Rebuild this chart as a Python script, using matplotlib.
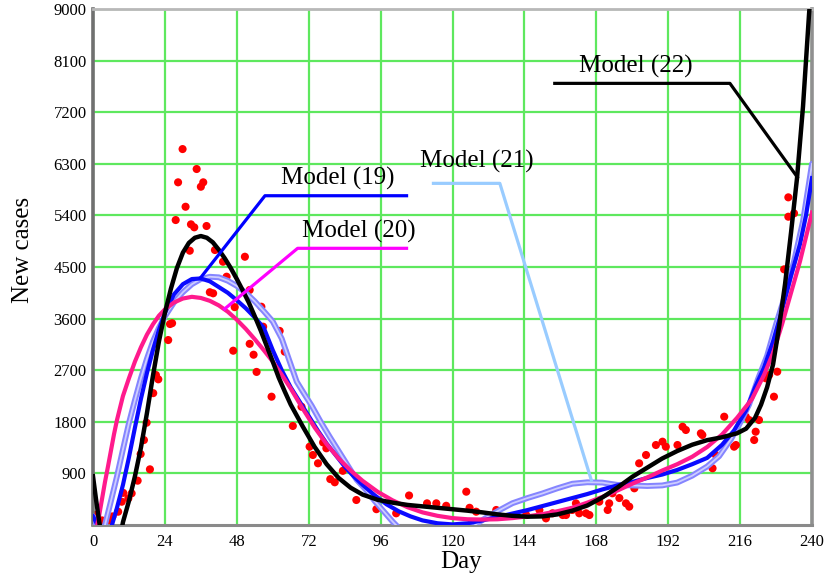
import matplotlib
matplotlib.use("Agg")
import matplotlib.pyplot as plt

# ---------------- data ----------------
obs_day = [1, 3, 5, 6.5, 8.4, 9.6, 10.1, 11.8, 12.9, 14.9, 15.9, 17, 17.9, 19, 20.1, 21, 21.8,
           25.1, 25.7, 26.4, 27.6, 28.4, 29.9, 30.9, 32.3, 32.7, 33.8, 34.6, 36, 36.8, 37.9,
           39, 40.1, 40.7, 43.4, 44.6, 46.8, 47.3, 50.7, 52.3, 52.3, 53.6, 54.6, 56.2, 56.8,
           59.6, 62.3, 64, 66.7, 69.6, 72.3, 73.4, 75.1, 76.8, 77.9, 79.2, 80.7, 83.4, 87.9,
           94.6, 101.2, 105.5, 111.5, 114.6, 117.9, 124.6, 125.7, 127.9, 134.6, 144.6, 149,
           151.2, 153.4, 156.8, 157.9, 160, 161.2, 162.3, 164.6, 165.7, 169, 171.8, 172.3,
           173.4, 175.7, 177.9, 179, 180.7, 182.3, 184.6, 187.9, 190.1, 191.2, 195.1, 196.8,
           197.9, 202.9, 203.4, 206.8, 207.9, 210.7, 214, 214.6, 217.9, 219, 220.7, 221.2,
           222.3, 224.6, 225.7, 227.3, 228.4, 230.7, 232.1, 232.1, 234]
obs_val = [180, 80, 60, 150, 232, 406, 560, 465, 552, 773, 1238, 1482, 1784, 971, 2300, 2616, 2541,
           3226, 3505, 3520, 5319, 5977, 6557, 5551, 4784, 5244, 5192, 6209, 5900, 5977, 5215,
           4060, 4041, 4796, 4592, 4331, 3040, 3800, 4679, 3160, 4099, 2970, 2670, 3807, 3459,
           2238, 3385, 3023, 1727, 2063, 1366, 1221, 1076, 1440, 1338, 800, 745, 945, 436,
           276, 204, 515, 378, 378, 335, 581, 300, 232, 262, 174, 262,
           116, 204, 174, 174, 262, 378, 204, 204, 174, 407, 262, 378,
           553, 470, 378, 320, 640, 1076, 1221, 1395, 1453, 1366, 1395, 1714,
           1657, 1599, 1570, 989, 1221, 1889, 1366, 1395, 1889, 1831, 1482, 1627,
           1831, 2558, 2616, 2238, 2674, 4459, 5377, 5715, 5436]

# Model (22) - black
m22_day = [0, 1, 2, 3, 5, 7, 9, 10, 12, 14, 16, 18, 20, 22, 24, 26, 28, 30, 32, 34, 36, 38, 40,
           42, 44, 46, 48, 50, 52, 54, 56, 58, 60, 62, 64, 66, 70, 74, 78, 82, 86, 90, 95, 100,
           105, 110, 115, 120, 125, 130, 135, 140, 145, 150, 155, 160, 165, 170, 175, 180, 185,
           190, 195, 200, 205, 210, 215, 218, 221, 223, 225, 227, 229, 231, 233, 235, 237, 239, 240]
m22_val = [850, 450, 80, -250, -600, -550, -250, 50, 420, 850, 1350, 1950, 2600, 3200, 3700, 4120,
           4480, 4750, 4920, 5010, 5040, 5010, 4930, 4800, 4650, 4480, 4290, 4090, 3880, 3640,
           3390, 3120, 2850, 2570, 2330, 2100, 1720, 1360, 1060, 820, 650, 530, 440, 390,
           350, 325, 300, 275, 250, 220, 185, 160, 145, 150, 185, 250, 340, 480, 650, 840, 1000,
           1160, 1290, 1400, 1480, 1530, 1600, 1680, 1870, 2100, 2400, 2800, 3450, 4200, 5100,
           6050, 7300, 8900, 9600]

# Model (19) - blue
m19_day = [0, 2, 4, 6, 8, 10, 12, 14, 16, 18, 20, 22, 24, 27, 30, 33, 36, 39, 42, 45, 48, 51,
           54, 57, 60, 63, 66, 69, 72, 75, 78, 81, 84, 87, 90, 94, 98, 102, 106, 110, 115, 120,
           125, 130, 135, 140, 145, 150, 155, 160, 165, 170, 175, 180, 185, 190, 195, 200, 205,
           210, 214, 218, 221, 224, 227, 230, 233, 236, 238, 240]
m19_val = [150, -50, -150, -60, 300, 700, 1180, 1700, 2200, 2650, 3050, 3400, 3700, 4020, 4200,
           4290, 4300, 4250, 4150, 4050, 3920, 3780, 3620, 3440, 3050, 2700, 2400, 2150, 1900,
           1650, 1420, 1220, 1020, 850, 700, 520, 360, 240, 150, 80, 30, 10, 30, 80, 140, 200,
           260, 330, 400, 470, 540, 620, 690, 750, 820, 880, 960, 1060, 1170, 1400, 1650, 2000,
           2400, 2750, 3200, 3750, 4350, 4900, 5400, 6050]

# Model (20) - pink
m20_day = [0, 1, 2, 3, 4, 5, 6, 7, 8, 10, 12, 14, 16, 18, 20, 22, 24, 27, 30, 33, 36, 39, 42, 45,
           48, 51, 54, 57, 60, 63, 66, 70, 74, 78, 82, 86, 90, 95, 100, 105, 110, 115, 120, 125,
           130, 135, 140, 145, 150, 155, 160, 165, 170, 175, 180, 185, 190, 195, 200, 205, 210,
           215, 220, 224, 227, 230, 233, 236, 240]
m20_val = [-350, -100, 150, 450, 750, 1020, 1300, 1580, 1830, 2250, 2560, 2850, 3100, 3320, 3500,
           3650, 3760, 3880, 3950, 3980, 3960, 3910, 3830, 3720, 3580, 3420, 3240, 3050, 2850,
           2620, 2380, 2030, 1700, 1410, 1160, 950, 770, 580, 430, 310, 220, 160, 120, 100, 95,
           100, 120, 150, 190, 240, 300, 390, 490, 600, 720, 830, 950, 1060, 1190, 1360, 1580,
           1870, 2200, 2620, 3000, 3500, 4050, 4600, 5450]

# Model (21) - light purple
m21_day = [0, 2, 3, 4, 6, 8, 10, 12, 14, 16, 18, 20, 22, 24, 27, 30, 33, 36, 39, 42, 45, 48, 51,
           54, 57, 60, 63, 66, 68, 70, 73, 76, 79, 82, 85, 88, 91, 94, 97, 100, 103, 107, 112,
           117, 121, 125, 128, 131, 135, 140, 145, 150, 155, 160, 165, 170, 175, 180, 185, 190,
           195, 200, 205, 209, 213, 216, 219, 222, 225, 228, 231, 234, 237, 240]
m21_val = [150, -150, -200, 0, 420, 850, 1320, 1780, 2180, 2560, 2900, 3200, 3440, 3640, 3880,
           4060, 4200, 4290, 4330, 4320, 4260, 4170, 4050, 3900, 3730, 3550, 3250, 2800, 2500,
           2330, 2080, 1800, 1540, 1290, 1040, 790, 620, 420, 240, 60, -100, -300, -450, -450,
           -300, -120, 20, 120, 240, 380, 470, 550, 640, 720, 745, 740, 700, 690, 680, 690,
           740, 860, 1020, 1200, 1500, 1780, 2100, 2550, 2950, 3500, 4000, 4600, 5300, 6300]

# callouts: label, text anchor (day, value), polyline (days, values), colour
callout_labels = ["Model (19)", "Model (20)", "Model (21)", "Model (22)"]
callout_text_day = [81.8, 88.6, 128.0, 181.1]
callout_text_val = [5930, 5005, 6226, 7889]
callout_line_day = [[35.5, 57.4, 105.2], [43.5, 68.3, 105.2], [113.1, 135.8, 166.5], [153.6, 212.6, 235.4]]
callout_line_val = [[4285, 5743, 5743], [3750, 4826, 4826], [5959, 5959, 755], [7703, 7703, 6046]]
callout_colors = ["#0000ff", "#ff00ff", "#99ccff", "#000000"]

x_ticks = [0, 24, 48, 72, 96, 120, 144, 168, 192, 216, 240]
y_ticks = [900, 1800, 2700, 3600, 4500, 5400, 6300, 7200, 8100, 9000]

# ---------------- plot ----------------
plt.rcParams['font.family'] = ['Liberation Serif', 'DejaVu Serif']
fig = plt.figure(figsize=(8.24, 5.76), dpi=100)
ax = fig.add_axes([93 / 824, 1 - 525 / 576, (812 - 93) / 824, (525 - 9) / 576])

ax.set_xlim(0, 240)
ax.set_ylim(0, 9000)
ax.set_xticks(x_ticks)
ax.set_yticks(y_ticks)
ax.set_xticklabels([str(v) for v in x_ticks])
ax.set_yticklabels([str(v) for v in y_ticks])
ax.tick_params(length=0, labelsize=12, colors='black')
ax.tick_params(axis='x', pad=6.5)
ax.tick_params(axis='y', pad=4.5)
ax.grid(True, color='#5ee85e', linewidth=1.6, zorder=0)
ax.set_axisbelow(True)

for side, col, lw in [('left', '#707070', 2.6), ('bottom', '#8a8a8a', 2.2),
                      ('right', '#909090', 2.6), ('top', '#b8b8b8', 2.0)]:
    ax.spines[side].set_color(col)
    ax.spines[side].set_linewidth(lw)

ax.scatter(obs_day, obs_val, s=34, color='#ff0000', edgecolors='none', zorder=2)

ax.plot(m21_day, m21_val, color='#8585ff', linewidth=4.2, zorder=3, solid_capstyle='round')
ax.plot(m21_day, m21_val, color='#cdcdff', linewidth=1.3, zorder=3.1)
ax.plot(m19_day, m19_val, color='#0a0aff', linewidth=3.0, zorder=3.2)
ax.plot(m20_day, m20_val, color='#ff1a8c', linewidth=3.0, zorder=3.3)
ax.plot(m22_day, m22_val, color='#000000', linewidth=3.2, zorder=3.4)

for lab, tx, ty, ld, lv, col in zip(callout_labels, callout_text_day, callout_text_val,
                                    callout_line_day, callout_line_val, callout_colors):
    ax.plot(ld, lv, color=col, linewidth=2.3, zorder=4, solid_capstyle='butt')
    ax.text(tx, ty, lab, fontsize=18, ha='center', va='baseline', color='black', zorder=5)

fig.text(461 / 824, 1 - 568 / 576, "Day", fontsize=18, ha='center', va='baseline')
fig.text(23.5 / 824, 1 - 250 / 576, "New cases", fontsize=18, ha='center', va='center', rotation=90)

fig.savefig("out.png", dpi=100)
